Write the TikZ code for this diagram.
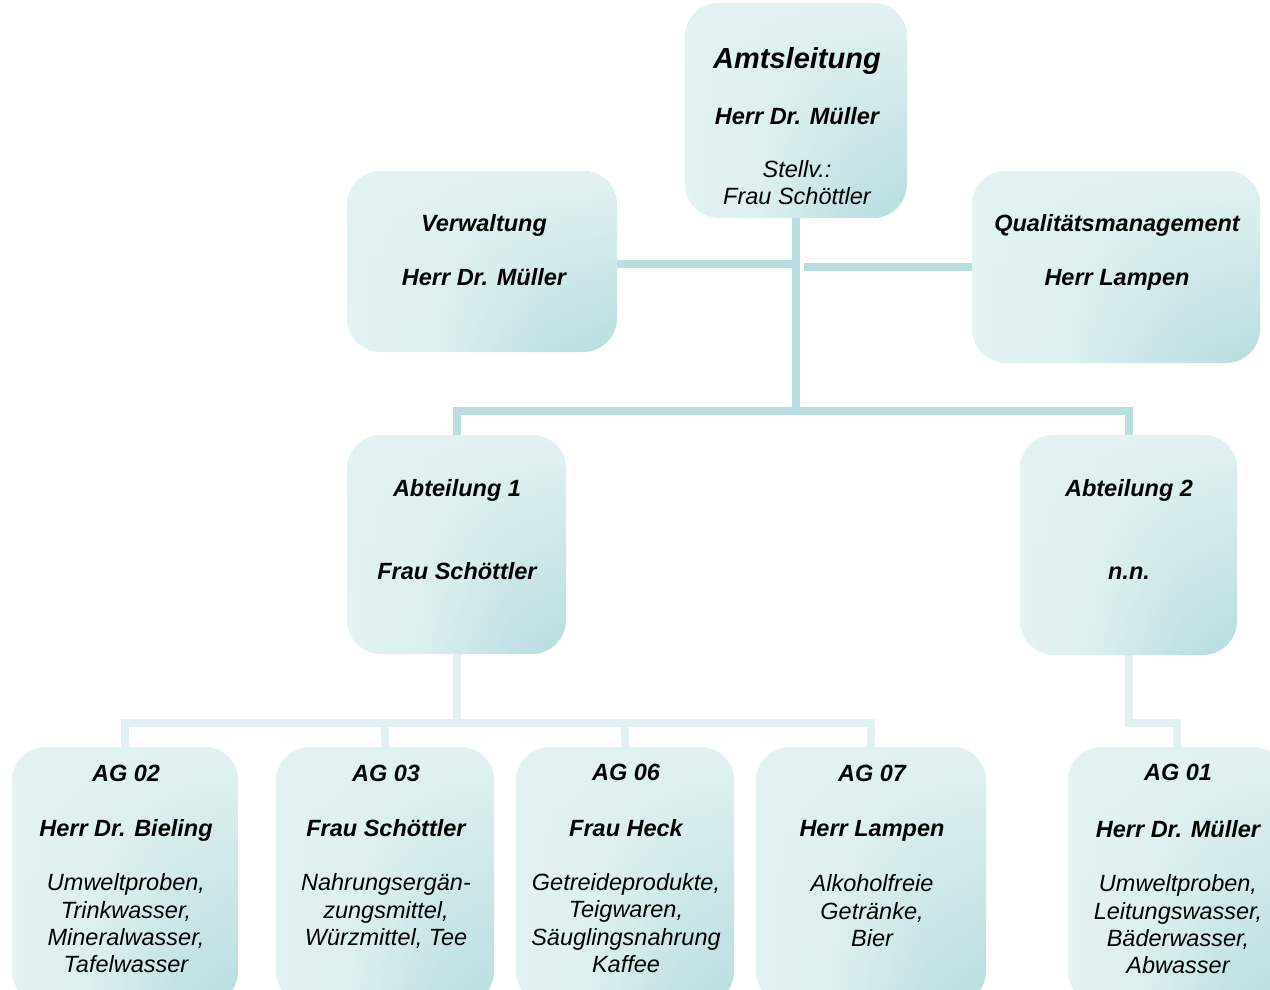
\documentclass[tikz,border=0pt]{standalone}
\usepackage{fontspec}
\setmainfont{Liberation Sans}
\usetikzlibrary{fadings,backgrounds,calc}

\definecolor{boxlight}{HTML}{E3F2F3}
\definecolor{boxdark}{HTML}{B8DDE0}
\definecolor{linkdark}{HTML}{B8DEE1}
\definecolor{linklight}{HTML}{E1F1F2}

% horizontal base colour of every box: light on the left, teal on the right
\pgfdeclarehorizontalshading{orgshade}{100bp}{%
  color(0bp)=(boxlight); color(25bp)=(boxlight);
  color(42bp)=(boxlight!85!boxdark); color(62bp)=(boxdark!80!boxlight);
  color(75bp)=(boxdark); color(100bp)=(boxdark)}

\newcommand\orgb[1]{{\bfseries\itshape #1}}
\newcommand\orgi[1]{{\itshape #1}}

\tikzset{
  orgbox/.style={rectangle, rounded corners=34pt, inner sep=0pt, draw=none,
    shading=orgshade,
    postaction={fill=boxlight, path fading=south}},
  % a multi-line text block is placed by the baseline of its last line
  orgtext/.style={inner sep=0pt, align=center, anchor=base,
    font=\fontsize{23.5}{27.3}\selectfont},
  linkup/.style={draw=linkdark, line width=8pt, line cap=butt, line join=miter},
  linkdown/.style={draw=linklight, line width=8pt, line cap=butt, line join=miter},
}

\begin{document}
\begin{tikzpicture}[x=1pt, y=-1pt]
\useasboundingbox (0,0) rectangle (1270,989);
\clip (0,0) rectangle (1270,989);

% ---- boxes ----
\node[orgbox, minimum width=222pt, minimum height=215pt] (aml)  at (796,110.5) {};
\node[orgbox, minimum width=270pt, minimum height=181pt] (verw) at (482,261.5) {};
\node[orgbox, minimum width=288pt, minimum height=192pt] (qm)   at (1116,267) {};
\node[orgbox, minimum width=219pt, minimum height=219pt] (abt1) at (456.5,544.5) {};
\node[orgbox, minimum width=217pt, minimum height=220pt] (abt2) at (1128.5,545) {};
\node[orgbox, minimum width=226pt, minimum height=258pt] (ag02) at (125,876) {};
\node[orgbox, minimum width=218pt, minimum height=258pt] (ag03) at (385,876) {};
\node[orgbox, minimum width=218pt, minimum height=258pt] (ag06) at (625,876) {};
\node[orgbox, minimum width=230pt, minimum height=258pt] (ag07) at (871,876) {};
\node[orgbox, minimum width=218pt, minimum height=258pt] (ag01) at (1177,876) {};

% ---- texts ----
\node[orgtext] (aml-t) at ($(aml.north)+(1,202)$)
  {{\fontsize{29}{27.3}\selectfont\orgb{Amtsleitung}}\\[28pt]
   \orgb{Herr Dr. Müller}\\[26pt]
   \orgi{Stellv.:}\\ \orgi{Frau Schöttler}};
\node[orgtext] (verw-t) at ($(verw.north)+(2,114.5)$)
  {\orgb{Verwaltung}\\[27pt] \orgb{Herr Dr. Müller}};
\node[orgtext] (qm-t) at ($(qm.north)+(1,114.5)$)
  {\orgb{Qualitätsmanagement}\\[27pt] \orgb{Herr Lampen}};
\node[orgtext] (abt1-t) at ($(abt1.north)+(0.5,144.5)$)
  {\orgb{Abteilung 1}\\[56pt] \orgb{Frau Schöttler}};
\node[orgtext] (abt2-t) at ($(abt2.north)+(0.5,144.5)$)
  {\orgb{Abteilung 2}\\[56pt] \orgb{n.n.}};
\node[orgtext] (ag02-t) at ($(ag02.north)+(1,226)$)
  {\orgb{AG 02}\\[28pt] \orgb{Herr Dr. Bieling}\\[27pt]
   \orgi{Umweltproben,}\\ \orgi{Trinkwasser,}\\ \orgi{Mineralwasser,}\\ \orgi{Tafelwasser}};
\node[orgtext] (ag03-t) at ($(ag03.north)+(1,198.5)$)
  {\orgb{AG 03}\\[28pt] \orgb{Frau Schöttler}\\[27pt]
   \orgi{Nahrungsergän-}\\ \orgi{zungsmittel,}\\ \orgi{Würzmittel, Tee}};
\node[orgtext] (ag06-t) at ($(ag06.north)+(1,225.5)$)
  {\orgb{AG 06}\\[28pt] \orgb{Frau Heck}\\[27pt]
   \orgi{Getreideprodukte,}\\ \orgi{Teigwaren,}\\ \orgi{Säuglingsnahrung}\\ \orgi{Kaffee}};
\node[orgtext] (ag07-t) at ($(ag07.north)+(1,199.5)$)
  {\orgb{AG 07}\\[28pt] \orgb{Herr Lampen}\\[28pt]
   \orgi{Alkoholfreie}\\ \orgi{Getränke,}\\ \orgi{Bier}};
\node[orgtext] (ag01-t) at ($(ag01.north)+(1,227)$)
  {\orgb{AG 01}\\[30pt] \orgb{Herr Dr. Müller}\\[27pt]
   \orgi{Umweltproben,}\\ \orgi{Leitungswasser,}\\ \orgi{Bäderwasser,}\\ \orgi{Abwasser}};

% ---- connectors ----
\coordinate (bus1) at (796,411);
\coordinate (vwj)  at (796,264);
\coordinate (qmj)  at (804,267);
\coordinate (bus2) at (456.5,723);
\coordinate (j2)   at (1128.5,723);

\begin{scope}[on background layer]
  \draw[linkup] (aml.south) -- (bus1);
  \draw[linkup] (vwj) -- (verw.east |- vwj);
  \draw[linkup] (qmj) -- (qm.west |- qmj);
  \draw[linkup] (abt1.north) |- (bus1) -| (abt2.north);

  \draw[linkdown] (abt1.south) -- (bus2);
  \draw[linkdown] (ag02.north) |- (bus2) -| (ag07.north);
  \draw[linkdown] (ag03.north) -- (ag03.north |- bus2);
  \draw[linkdown] (ag06.north) -- (ag06.north |- bus2);
  \draw[linkdown] (abt2.south) -- (j2) -| (ag01.north);
\end{scope}
\end{tikzpicture}
\end{document}
